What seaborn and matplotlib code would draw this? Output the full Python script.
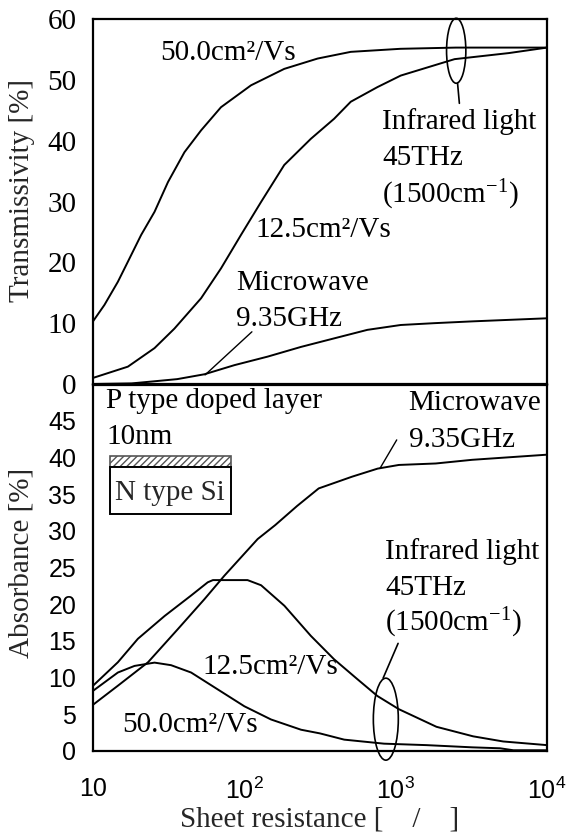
import numpy as np
import pandas as pd
import matplotlib
matplotlib.use("Agg")
import matplotlib.pyplot as plt
import seaborn as sns
from matplotlib.patches import Ellipse, Rectangle
from matplotlib.ticker import FixedLocator, NullLocator

# ---------------- data ----------------
# Top panel: transmissivity [%] vs sheet resistance
top_mu50_x = [10, 11.9, 14.6, 17.0, 20.8, 25.5, 31.3, 40.2, 51.8, 70.1, 110.7, 183.5, 305, 505, 1075, 2500, 10000]
top_mu50_y = [10.3, 13.0, 16.8, 20.1, 24.5, 28.3, 33.2, 38.1, 41.7, 45.5, 49.1, 51.8, 53.5, 54.6, 55.1, 55.3, 55.3]
top_mu125_x = [10, 17.0, 25.5, 34.5, 51.8, 70.1, 95, 128.8, 183.5, 275, 392, 505, 757, 1080, 2450, 5600, 10000]
top_mu125_y = [1.0, 2.85, 5.9, 9.1, 14.1, 19.0, 24.5, 29.9, 36.0, 40.3, 43.6, 46.4, 48.8, 50.7, 53.4, 54.4, 55.3]
top_mw_x = [10, 18, 24.3, 36, 54.5, 86, 142.5, 237, 392, 650, 1080, 1800, 3240, 10000]
top_mw_y = [0.0, 0.1, 0.4, 0.8, 1.6, 3.1, 4.5, 6.1, 7.5, 8.9, 9.7, 10.0, 10.3, 10.8]

# Bottom panel: absorbance [%] vs sheet resistance
bot_mu125_x = [10, 14.6, 19.8, 29.7, 44.5, 57.3, 62, 105, 129, 184, 275, 392, 558, 757, 1050, 1860, 3250, 5130, 10000]
bot_mu125_y = [8.9, 12.1, 15.3, 18.4, 21.2, 23.0, 23.3, 23.3, 22.6, 19.8, 15.7, 12.5, 9.8, 7.5, 5.7, 3.3, 2.0, 1.3, 0.8]
bot_mw_x = [10, 14.6, 23.1, 36.3, 54.5, 73.8, 122.5, 160, 223, 310, 515, 760, 1050, 1840, 3200, 10000]
bot_mw_y = [6.3, 8.9, 12.1, 16.6, 20.7, 23.9, 28.9, 30.8, 33.4, 35.8, 37.4, 38.5, 39.0, 39.2, 39.7, 40.4]
bot_mu50_x = [10, 14.6, 18.8, 25.5, 32.8, 44.5, 66.7, 100, 150, 237, 316, 457, 838, 1600, 3200, 4900, 6000, 10000]
bot_mu50_y = [8.2, 10.7, 11.6, 12.05, 11.7, 10.7, 8.4, 6.1, 4.3, 2.9, 2.4, 1.55, 1.0, 0.8, 0.5, 0.37, 0.1, 0.1]

x_ticks = [10, 100, 1000, 10000]
x_tick_labels = ["10", r"$\mathregular{10^{2}}$", r"$\mathregular{10^{3}}$", r"$\mathregular{10^{4}}$"]
top_y_ticks = [0, 10, 20, 30, 40, 50, 60]
bot_y_ticks = [0, 5, 10, 15, 20, 25, 30, 35, 40, 45]


def long_df(pairs):
    frames = []
    for name, xs, ys in pairs:
        frames.append(pd.DataFrame({"R": xs, "V": ys, "series": name}))
    return pd.concat(frames, ignore_index=True)


df_top = long_df([("mu50", top_mu50_x, top_mu50_y),
                  ("mu125", top_mu125_x, top_mu125_y),
                  ("mw", top_mw_x, top_mw_y)])
df_bot = long_df([("mu125", bot_mu125_x, bot_mu125_y),
                  ("mw", bot_mw_x, bot_mw_y),
                  ("mu50", bot_mu50_x, bot_mu50_y)])

# ---------------- style ----------------
sns.set_style("white")
plt.rcParams["font.family"] = ["Liberation Serif", "DejaVu Serif"]
plt.rcParams["mathtext.fontset"] = "custom"
plt.rcParams["mathtext.rm"] = "Liberation Serif"

SERIF = ["Liberation Serif", "DejaVu Serif"]
SANS = ["Liberation Sans", "DejaVu Sans"]
FS = 21
TFS = 18

fig = plt.figure(figsize=(5.68, 8.36), dpi=100)
ax1 = fig.add_axes([93 / 568, 1 - 384 / 836, 454 / 568, 365 / 836])
ax2 = fig.add_axes([93 / 568, 1 - 751 / 836, 454 / 568, 366 / 836])

for ax, df in ((ax1, df_top), (ax2, df_bot)):
    ax.set_xscale("log")
    sns.lineplot(data=df, x="R", y="V", units="series", estimator=None,
                 color="black", lw=1.4, sort=False, ax=ax, legend=False)
    ax.set_xlim(10, 10000)
    ax.xaxis.set_major_locator(FixedLocator(x_ticks))
    ax.xaxis.set_minor_locator(NullLocator())
    ax.tick_params(axis="both", which="both", direction="in", length=6, width=1,
                   top=False, right=False, colors="black")
    for s in ax.spines.values():
        s.set_linewidth(1.6)
        s.set_color("black")
        s.set_visible(True)
    ax.set_xlabel("")
    ax.set_ylabel("")

# top axes
ax1.set_ylim(0, 60)
ax1.set_yticks(top_y_ticks)
ax1.set_yticklabels([str(t) for t in top_y_ticks])
ax1.tick_params(axis="x", labelbottom=False)
ax1.tick_params(axis="y", pad=12, labelsize=FS, labelfontfamily="Liberation Serif")
ax1.set_ylabel("Transmissivity [%]", family=SERIF, fontsize=FS)
ax1.yaxis.set_label_coords(-0.128, 0.53)

# bottom axes
ax2.set_ylim(0, 49.9)
ax2.set_yticks(bot_y_ticks)
ax2.set_yticklabels([str(t) for t in bot_y_ticks])
ax2.set_xticklabels(x_tick_labels)
ax2.tick_params(axis="x", pad=19, labelsize=TFS, labelfontfamily="Liberation Sans")
ax2.tick_params(axis="y", pad=12, labelsize=TFS, labelfontfamily="Liberation Sans")
ax2.set_ylabel("Absorbance [%]", family=SERIF, fontsize=FS)
ax2.yaxis.set_label_coords(-0.128, 0.515)
ax2.set_xlabel("Sheet resistance [    /    ]", family=SERIF, fontsize=FS, labelpad=2)

# ---------------- annotations: top ----------------
t_kw = dict(family=SERIF, fontsize=FS, ha="left", va="center", color="black")
a1 = dict(transform=ax1.transAxes, **t_kw)
ax1.text(0.149, 0.907, "50.0cm\u00b2/Vs", **a1)
ax1.text(0.637, 0.718, "Infrared light", **a1)
ax1.text(0.637, 0.619, "45THz", **a1)
ax1.text(0.637, 0.518, r"(1500cm$\mathregular{^{-1}}$)", **a1)
ax1.text(0.357, 0.422, "12.5cm\u00b2/Vs", **a1)
ax1.text(0.316, 0.277, "Microwave", **a1)
ax1.text(0.316, 0.178, "9.35GHz", **a1)
ax1.plot([0.350, 0.247], [0.143, 0.025], transform=ax1.transAxes, color="black", lw=1.0)
ax1.add_patch(Ellipse((0.800, 0.913), 0.0425, 0.178, transform=ax1.transAxes,
                      fill=False, ec="black", lw=1.2, clip_on=False))
ax1.plot([0.803, 0.807], [0.824, 0.769], transform=ax1.transAxes,
         color="black", lw=1.2, clip_on=False)

# ---------------- annotations: bottom ----------------
a2 = dict(transform=ax2.transAxes, **t_kw)
ax2.text(0.029, 0.957, "P type doped layer", **a2)
ax2.text(0.029, 0.859, "10nm", **a2)
ax2.text(0.695, 0.951, "Microwave", **a2)
ax2.text(0.695, 0.850, "9.35GHz", **a2)
ax2.text(0.643, 0.544, "Infrared light", **a2)
ax2.text(0.643, 0.445, "45THz", **a2)
ax2.text(0.643, 0.350, r"(1500cm$\mathregular{^{-1}}$)", **a2)
ax2.text(0.242, 0.230, "12.5cm\u00b2/Vs", **a2)
ax2.text(0.064, 0.071, "50.0cm\u00b2/Vs", **a2)

# microwave leader line
ax2.plot([0.669, 0.632], [0.850, 0.772], transform=ax2.transAxes, color="black", lw=1.0)
# infrared ellipse + leader
ax2.add_patch(Ellipse((0.645, 0.087), 0.055, 0.224, transform=ax2.transAxes,
                      fill=False, ec="black", lw=1.2, clip_on=False))
ax2.plot([0.639, 0.672], [0.199, 0.294], transform=ax2.transAxes,
         color="black", lw=1.2, clip_on=False)

# layer diagram
ax2.add_patch(Rectangle((0.037, 0.775), 0.268, 0.031, transform=ax2.transAxes,
                        facecolor="white", edgecolor="#555555", hatch="/////", lw=1.2))
ax2.add_patch(Rectangle((0.037, 0.648), 0.268, 0.127, transform=ax2.transAxes,
                        facecolor="white", edgecolor="black", lw=1.4))
ax2.text(0.170, 0.705, "N type Si", transform=ax2.transAxes, family=SERIF,
         fontsize=FS, ha="center", va="center")

fig.savefig("out.png", dpi=100)
